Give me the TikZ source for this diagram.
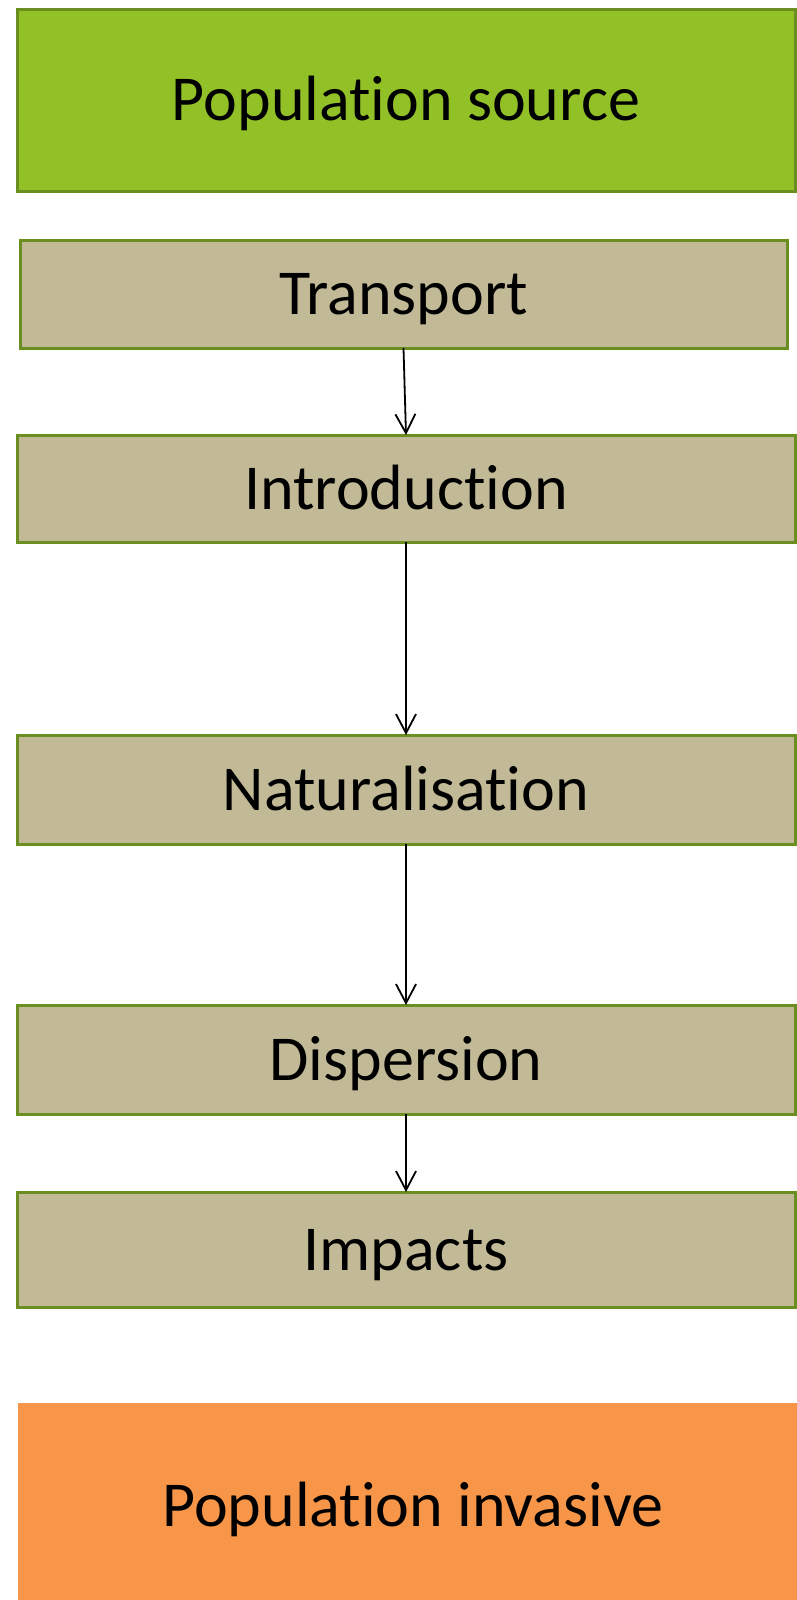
\documentclass[tikz,border=0pt]{standalone}
\usepackage{fontspec}
\setmainfont[Ligatures=NoCommon,RawFeature={-liga;-dlig;-calt}]{Carlito}
\usetikzlibrary{arrows.meta}
\newcommand{\nolg}{\kern0pt}
\definecolor{srcgreen}{HTML}{92C127}
\definecolor{bordergreen}{HTML}{6A8E1F}
\definecolor{tanfill}{HTML}{C2BA97}
\definecolor{invorange}{HTML}{F79648}
\tikzset{
  every node/.style={inner sep=0pt, outer sep=0pt, font=\fontsize{64}{76}\selectfont, text=black, text height=46pt, text depth=5pt},
  stage/.style={draw=bordergreen, line width=3pt, fill=tanfill},
  srcbox/.style={draw=bordergreen, line width=3pt, fill=srcgreen},
  invbox/.style={fill=invorange},
  flow/.style={draw=black, line width=1.8pt, -{Straight Barb[length=19pt,width=20pt,line width=1.8pt]}}
}
\begin{document}
\begin{tikzpicture}[x=1pt,y=-1pt]
\useasboundingbox (0,0) rectangle (796,1600);
\fill[white] (0,0) rectangle (796,1600);
\node[srcbox, minimum width=778pt, minimum height=181pt] (src) at (406,100.5) {Populat\nolg ion source};
\node[stage, minimum width=767pt, minimum height=108pt] (tr) at (403.5,294) {Transport};
\node[stage, minimum width=778pt, minimum height=107pt] (intro) at (406,488.5) {Introduct\nolg ion};
\node[stage, minimum width=778pt, minimum height=109pt] (nat) at (406,789.5) {Naturalisat\nolg ion};
\node[stage, minimum width=778pt, minimum height=109pt] (disp) at (406,1059.5) {Dispersion};
\node[stage, minimum width=778pt, minimum height=115pt] (imp) at (406,1249.5) {Impacts};
\node[invbox, minimum width=790pt, minimum height=205pt] (inv) at (413,1505.5) {Populat\nolg ion invasive};
\draw[flow] (tr.south) -- (intro.north);
\draw[flow] (intro.south) -- (nat.north);
\draw[flow] (nat.south) -- (disp.north);
\draw[flow] (disp.south) -- (imp.north);
\end{tikzpicture}
\end{document}
